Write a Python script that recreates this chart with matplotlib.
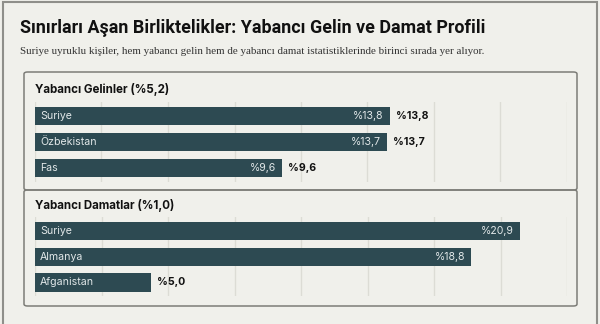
import numpy as np
import matplotlib.pyplot as plt
from matplotlib.patches import FancyBboxPatch, Rectangle

W, H = 600, 324

title = "Sınırları Aşan Birliktelikler: Yabancı Gelin ve Damat Profili"
subtitle = ("Suriye uyruklu kişiler, hem yabancı gelin hem de yabancı damat "
            "istatistiklerinde birinci sırada yer alıyor.")

gelin_header = "Yabancı Gelinler (%5,2)"
gelin_countries = ["Suriye", "Özbekistan", "Fas"]
gelin_values = [13.8, 13.7, 9.6]

damat_header = "Yabancı Damatlar (%1,0)"
damat_countries = ["Suriye", "Almanya", "Afganistan"]
damat_values = [20.9, 18.8, 5.0]

BG = "#f0f0eb"
BAR = "#2d4a52"
GRID = "#dcdcd5"
EDGE = "#7d7d78"


def fx(px):
    return px / W


def fy(py):
    # pixel from the top -> figure fraction
    return 1 - py / H


def pct(v):
    return "%" + f"{v:.1f}".replace(".", ",")


fig = plt.figure(figsize=(W / 100, H / 100), dpi=100)
fig.patch.set_facecolor(BG)

# outer frame and the two panels
fig.patches.append(Rectangle((fx(3), fy(330)), fx(594), 328 / H, transform=fig.transFigure,
                             fill=False, edgecolor="#8f8f8a", lw=1.5))
for top, bottom in [(72, 190), (190, 306)]:
    fig.patches.append(FancyBboxPatch((fx(24), fy(bottom)), fx(553), (bottom - top) / H,
                                      boxstyle="round,pad=0,rounding_size=0.006",
                                      transform=fig.transFigure, fill=False,
                                      edgecolor=EDGE, lw=1.1))

fig.text(fx(20), fy(28), title, fontsize=12.9, fontweight="bold", family="Roboto",
         color="#111111", va="center", ha="left")
fig.text(fx(20), fy(52), subtitle, fontsize=7.9, family="Liberation Serif",
         color="#333333", va="center", ha="left")


def panel(header, header_y, countries, values, grid_top, grid_bottom, xmax):
    fig.text(fx(35), fy(header_y), header, fontsize=8.3, fontweight="bold",
             family="Inter", color="#111111", va="center", ha="left")
    ax = fig.add_axes([fx(35), fy(grid_bottom), fx(532), (grid_bottom - grid_top) / H])
    ax.set_facecolor("none")
    y = np.arange(len(values))
    ax.barh(y, values, height=0.71, color=BAR, zorder=2)
    ax.set_xlim(0, xmax)
    ax.set_ylim(len(values) - 1 + 0.53, -0.545)
    ax.set_xticks(np.linspace(0, xmax, 9))
    ax.set_yticks([])
    ax.grid(axis="x", color=GRID, lw=1, zorder=0)
    ax.tick_params(axis="x", length=0, labelbottom=False)
    for s in ax.spines.values():
        s.set_visible(False)
    px = xmax / 532  # data units per pixel
    for yi, c, v in zip(y, countries, values):
        ax.text(5 * px, yi, c, color="#e2e8e9", fontsize=7.6, family="Inter",
                va="center", ha="left", zorder=3)
        if v >= 8:
            ax.text(v - 6 * px, yi, pct(v), color="#e2e8e9", fontsize=7.6,
                    family="Inter", va="center", ha="right", zorder=3)
        if v <= 15:
            ax.text(v + 6 * px, yi, pct(v), color="#111111", fontsize=7.6,
                    fontweight="bold", family="Inter", va="center", ha="left", zorder=3)
    return ax


panel(gelin_header, 89, gelin_countries, gelin_values, 102, 182, 532 / 25.7)
panel(damat_header, 205, damat_countries, damat_values, 217, 296, 532 / 23.19)

fig.savefig("out.png", dpi=100, facecolor=BG)
